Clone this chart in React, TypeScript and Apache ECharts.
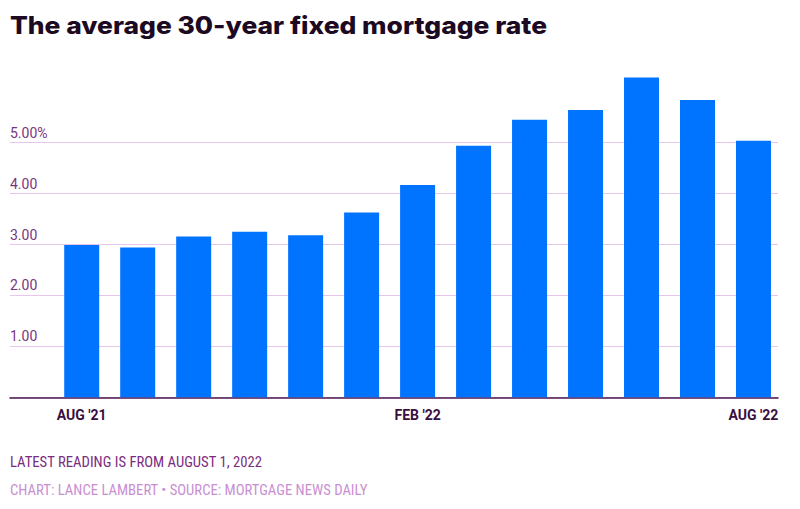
import React, { useEffect, useRef } from "react";
import * as echarts from "echarts";

const months = ["AUG '21", "SEP '21", "OCT '21", "NOV '21", "DEC '21", "JAN '22", "FEB '22", "MAR '22", "APR '22", "MAY '22", "JUN '22", "JUL '22", "AUG '22"];
const rates = [2.99, 2.94, 3.16, 3.25, 3.18, 3.63, 4.17, 4.94, 5.45, 5.64, 6.28, 5.84, 5.04];
const labeledIndices = [0, 6, 12];
const yTicks = [0, 1, 2, 3, 4, 5];

const title = "The average 30-year fixed mortgage rate";
const note = "LATEST READING IS FROM AUGUST 1, 2022";
const credit = "CHART: LANCE LAMBERT \u2022 SOURCE: MORTGAGE NEWS DAILY";

export default function App() {
  const ref = useRef<HTMLDivElement>(null);
  useEffect(() => {
    if (!ref.current) return;
    const chart = echarts.init(ref.current, null, { renderer: "svg" });
    const condensed = "'Liberation Sans Narrow', 'Roboto Condensed', Roboto, sans-serif";
    chart.setOption({
      animation: false,
      backgroundColor: "#ffffff",
      grid: { left: 10, right: 22, top: 142.7, bottom: 111.7, containLabel: false },
      xAxis: {
        type: "value",
        min: -1.281,
        max: 12.438,
        splitLine: { show: false },
        axisTick: { show: false },
        axisLine: { show: true, lineStyle: { color: "#4a1650", width: 1.5 } },
        axisLabel: {
          customValues: labeledIndices,
          formatter: (v: number) => months[Math.round(v)] ?? "",
          color: "#3a0f3f",
          fontWeight: "bold",
          fontSize: 14,
          fontFamily: "Roboto, sans-serif",
          margin: 11,
        },
      },
      yAxis: {
        type: "value",
        min: yTicks[0],
        max: yTicks[yTicks.length - 1],
        interval: 1,
        axisLine: { show: false },
        axisTick: { show: false },
        splitLine: { show: true, lineStyle: { color: "#e6c6ea", width: 1.2 } },
        axisLabel: {
          inside: true,
          align: "left",
          verticalAlign: "bottom",
          margin: 0,
          padding: [0, 0, 3, 0],
          color: "#7a3580",
          fontSize: 14,
          fontFamily: "Roboto, sans-serif",
          formatter: (v: number) => (v === 0 ? "" : v === 5 ? v.toFixed(2) + "%" : v.toFixed(2)),
        },
      },
      series: [
        {
          type: "bar",
          data: rates.map((r, i) => [i, r]),
          barWidth: 35,
          clip: false,
          itemStyle: { color: "#0073ff" },
        },
      ],
      graphic: [
        {
          type: "text",
          x: 10,
          y: 13,
          scaleX: 1.1,
          style: {
            text: title,
            fill: "#1c0a22",
            font: "800 24px Inter, 'DejaVu Sans', sans-serif",
          },
        },
        {
          type: "text",
          left: 10,
          top: 454,
          style: { text: note, fill: "#7a2d80", font: "14.7px " + condensed },
        },
        {
          type: "text",
          left: 10,
          top: 482,
          style: { text: credit, fill: "#c98fd2", font: "14.7px " + condensed },
        },
      ],
    });
    return () => chart.dispose();
  }, []);
  return <div ref={ref} style={{ position: "fixed", left: 0, top: 0, width: 800, height: 509 }} />;
}
